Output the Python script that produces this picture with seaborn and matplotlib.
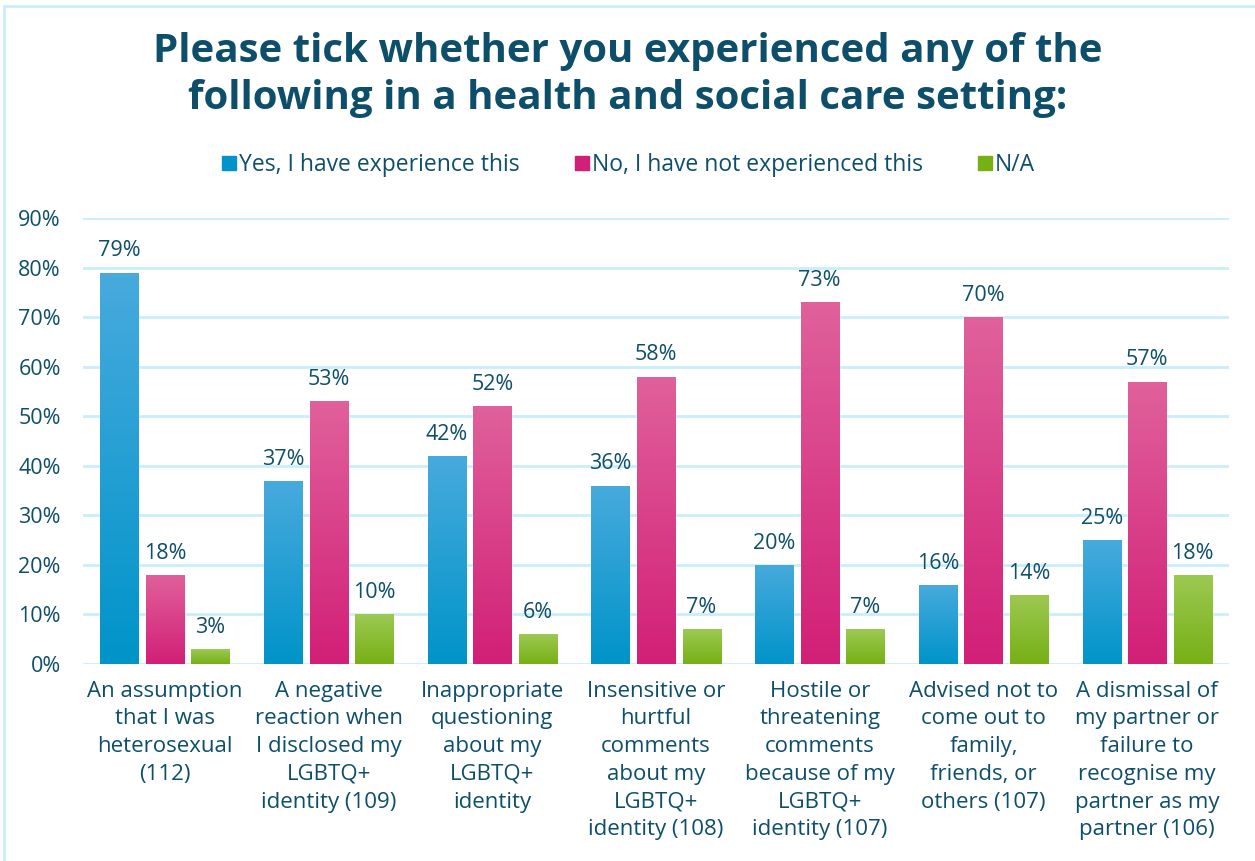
import numpy as np
import pandas as pd
import matplotlib
matplotlib.use("Agg")
import matplotlib.pyplot as plt
from matplotlib.colors import LinearSegmentedColormap
from matplotlib.lines import Line2D
from matplotlib.patches import Rectangle
import seaborn as sns

categories = [
    "An assumption\nthat I was\nheterosexual\n(112)",
    "A negative\nreaction when\nI disclosed my\nLGBTQ+\nidentity (109)",
    "Inappropriate\nquestioning\nabout my\nLGBTQ+\nidentity",
    "Insensitive or\nhurtful\ncomments\nabout my\nLGBTQ+\nidentity (108)",
    "Hostile or\nthreatening\ncomments\nbecause of my\nLGBTQ+\nidentity (107)",
    "Advised not to\ncome out to\nfamily,\nfriends, or\nothers (107)",
    "A dismissal of\nmy partner or\nfailure to\nrecognise my\npartner as my\npartner (106)",
]
series = ["Yes, I have experience this", "No, I have not experienced this", "N/A"]
yes_vals = [79, 37, 42, 36, 20, 16, 25]
no_vals = [18, 53, 52, 58, 73, 70, 57]
na_vals = [3, 10, 6, 7, 7, 14, 18]
y_ticks = [0, 10, 20, 30, 40, 50, 60, 70, 80, 90]

TEXT = "#0d4f6b"
GRID = "#c9eefb"
# (top, bottom) colours of each series' gradient
grad = {
    series[0]: ("#48aadd", "#0094c9"),
    series[1]: ("#e0619b", "#d21f77"),
    series[2]: ("#9dc953", "#76b015"),
}
mid = {k: v[1] for k, v in grad.items()}

df = pd.DataFrame({
    "category": np.repeat(categories, 3),
    "series": series * len(categories),
    "value": np.ravel(np.column_stack([yes_vals, no_vals, na_vals])),
})

sns.set_theme(style="white")
plt.rcParams["font.family"] = ["Open Sans", "DejaVu Sans"]

W, H = 1255, 861
fig = plt.figure(figsize=(W / 100, H / 100), dpi=100)
ax = fig.add_axes([83 / W, 1 - 664 / H, (1229 - 83) / W, (664 - 218) / H])

sns.barplot(data=df, x="category", y="value", hue="series", order=categories,
            hue_order=series, palette=mid, width=0.834, gap=0.165,
            legend=False, ax=ax, saturation=1)

# vertical gradient fill for every bar
for container, name in zip(ax.containers, series):
    top_c, bot_c = grad[name]
    cmap = LinearSegmentedColormap.from_list(name, [bot_c, top_c])
    for bar in container:
        x0, y0 = bar.get_x(), bar.get_y()
        w, h = bar.get_width(), bar.get_height()
        img = ax.imshow(np.linspace(0, 1, 256).reshape(-1, 1), cmap=cmap,
                        aspect="auto", origin="lower",
                        extent=(x0, x0 + w, y0, y0 + h), zorder=3)
        img.set_clip_path(bar)
        bar.set_zorder(2)
    ax.bar_label(container, labels=[f"{v:.0f}%" for v in container.datavalues],
                 padding=8, fontsize=15.5, color=TEXT)

ax.set_xlim(-0.5, len(categories) - 0.5)
ax.set_ylim(0, 90)
ax.set_yticks(y_ticks)
ax.set_yticklabels([f"{t}%" for t in y_ticks])
ax.grid(axis="y", color=GRID, linewidth=2)
ax.set_axisbelow(True)
for s in ax.spines.values():
    s.set_visible(False)
ax.tick_params(axis="y", labelsize=15.5, labelcolor=TEXT, pad=16, length=0)
ax.tick_params(axis="x", labelsize=16, labelcolor=TEXT, pad=12, length=0)
for lbl in ax.get_xticklabels():
    lbl.set_linespacing(1.42)
    lbl.set_verticalalignment("top")
ax.set_xlabel("")
ax.set_ylabel("")

fig.text(0.5, 1 - 75 / H, "Please tick whether you experienced any of the\n"
         "following in a health and social care setting:",
         ha="center", va="center", fontsize=29, fontweight="bold",
         color=TEXT, linespacing=1.26)

handles = [Line2D([], [], marker="s", linestyle="", markersize=10,
                  markerfacecolor=mid[s], markeredgecolor=mid[s]) for s in series]
fig.legend(handles, series, loc="center", bbox_to_anchor=(0.5, 1 - 165 / H),
           ncol=3, frameon=False, fontsize=16.5, labelcolor=TEXT,
           handletextpad=0.05, columnspacing=2.3, handlelength=0.8)

# light frame along the top and left edge
fig.add_artist(Rectangle((4 / W, -0.1), 1.2, 1 - 6 / H + 0.1, transform=fig.transFigure,
                         fill=False, edgecolor=GRID, linewidth=2))

fig.savefig("out.png", dpi=100, facecolor="white")
